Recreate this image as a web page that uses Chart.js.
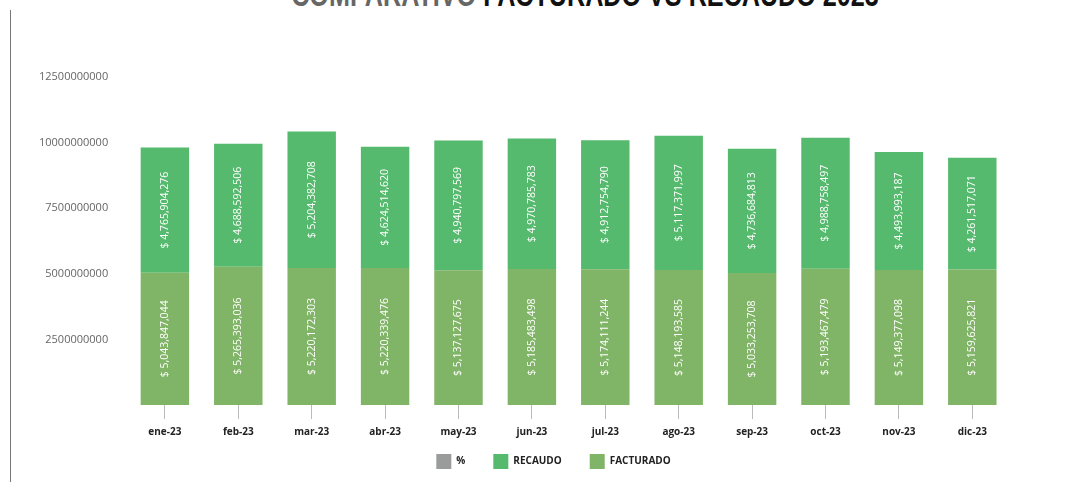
<!DOCTYPE html>
<html lang="es">
<head>
<meta charset="UTF-8">
<title>Comparativo Facturado vs Recaudo 2023</title>
<script src="https://cdn.jsdelivr.net/npm/chart.js"></script>
<style>
  html, body { margin: 0; padding: 0; background: #fff; overflow: hidden; }
  #marco { position: relative; width: 1088px; height: 482px; }
  #linea { position: absolute; left: 10px; top: 10px; width: 0; height: 472px; border-left: 1px solid #777; }
  #titulo {
    position: absolute; left: 0; width: 1170px; top: -25px; text-align: center;
    font-family: "Liberation Sans", sans-serif;
    font-weight: bold; font-size: 34px; color: #111; white-space: nowrap;
    transform: scaleX(0.74); transform-origin: 585px 0;
  }
  #titulo span { color: #666; }
  #grafico { position: absolute; left: 0; top: 0; }
</style>
</head>
<body>
<div id="marco">
  <div id="titulo"><span>COMPARATIVO</span> FACTURADO VS RECAUDO 2023</div>
  <div id="linea"></div>
  <canvas id="grafico" width="1088" height="482"></canvas>
</div>
<script>
  const meses = ['ene-23', 'feb-23', 'mar-23', 'abr-23', 'may-23', 'jun-23', 'jul-23', 'ago-23', 'sep-23', 'oct-23', 'nov-23', 'dic-23'];
  const facturado = [5043847044, 5265393036, 5220172303, 5220339476, 5137127675, 5185483498, 5174111244, 5148193585, 5033253708, 5193467479, 5149377098, 5159625821];
  const recaudo = [4765904276, 4688592506, 5204382708, 4624514620, 4940797569, 4970785783, 4912754790, 5117371997, 4736684813, 4988758497, 4493993187, 4261517071];
  const porcentaje = [];
  const ticksY = [2500000000, 5000000000, 7500000000, 10000000000, 12500000000];

  function formatoPesos(v) {
    return '$ ' + Math.round(v).toLocaleString('en-US');
  }

  // etiquetas verticales dentro de cada barra
  const etiquetasBarras = {
    id: 'etiquetasBarras',
    afterDatasetsDraw(chart) {
      const ctx = chart.ctx;
      ctx.save();
      ctx.fillStyle = '#ffffff';
      ctx.font = '10.5px "Open Sans", sans-serif';
      ctx.textAlign = 'center';
      ctx.textBaseline = 'middle';
      chart.data.datasets.forEach(function (ds, i) {
        if (!ds.etiquetas) return;
        const meta = chart.getDatasetMeta(i);
        meta.data.forEach(function (barra, j) {
          const centroY = (barra.y + barra.base) / 2;
          ctx.save();
          ctx.translate(barra.x, centroY);
          ctx.rotate(-Math.PI / 2);
          ctx.fillText(formatoPesos(ds.data[j]), 0, 0);
          ctx.restore();
        });
      });
      ctx.restore();
    }
  };

  // la leyenda reserva menos alto pero se dibuja con su padding normal
  const RECORTE_LEYENDA = 19;
  const ajusteLeyenda = {
    id: 'ajusteLeyenda',
    beforeLayout(chart) {
      const lg = chart.legend;
      if (!lg || lg._ajustada) return;
      const fitOrig = lg.fit;
      lg.fit = function () {
        fitOrig.call(this);
        this.height -= RECORTE_LEYENDA;
      };
      lg._ajustada = true;
    },
    afterLayout(chart) {
      const lg = chart.legend;
      if (!lg) return;
      lg.top -= RECORTE_LEYENDA;
      lg.height += RECORTE_LEYENDA;
    }
  };

  new Chart(document.getElementById('grafico'), {
    type: 'bar',
    data: {
      labels: meses,
      datasets: [
        { label: 'FACTURADO', data: facturado, backgroundColor: '#80b466', etiquetas: true },
        { label: 'RECAUDO', data: recaudo, backgroundColor: '#55ba6d', etiquetas: true },
        { label: '%', data: porcentaje, backgroundColor: '#9a9c9c' }
      ]
    },
    options: {
      responsive: false,
      animation: false,
      layout: { padding: { left: 19, right: 0, top: 77, bottom: 3 } },
      datasets: { bar: { barPercentage: 0.66, categoryPercentage: 1 } },
      plugins: {
        tooltip: { enabled: false },
        legend: {
          position: 'bottom',
          reverse: true,
          labels: {
            boxWidth: 15, boxHeight: 15, padding: 28, color: '#222',
            font: { family: '"Open Sans", sans-serif', size: 10, weight: 'bold' }
          }
        }
      },
      scales: {
        x: {
          stacked: true,
          border: { display: false },
          grid: { display: true, drawOnChartArea: false, offset: false, tickLength: 14, color: '#bbbbbb' },
          ticks: { color: '#222', padding: 7, font: { family: '"Open Sans", sans-serif', size: 10, weight: 'bold' } }
        },
        y: {
          stacked: true,
          min: 0,
          max: 12500000000,
          border: { display: false },
          grid: { display: false, drawTicks: false },
          afterBuildTicks(eje) {
            eje.ticks = ticksY.map(function (v) { return { value: v }; });
          },
          ticks: {
            color: '#666', padding: 20,
            font: { family: '"Open Sans", sans-serif', size: 11 },
            callback: function (v) { return String(v); }
          }
        },
        // eje vacío a la derecha, solo reserva el margen
        yDer: {
          position: 'right',
          display: true,
          border: { display: false },
          grid: { display: false, drawTicks: false },
          ticks: { display: false },
          afterFit(eje) { eje.width = 79; }
        }
      }
    },
    plugins: [etiquetasBarras, ajusteLeyenda]
  });
</script>
</body>
</html>
